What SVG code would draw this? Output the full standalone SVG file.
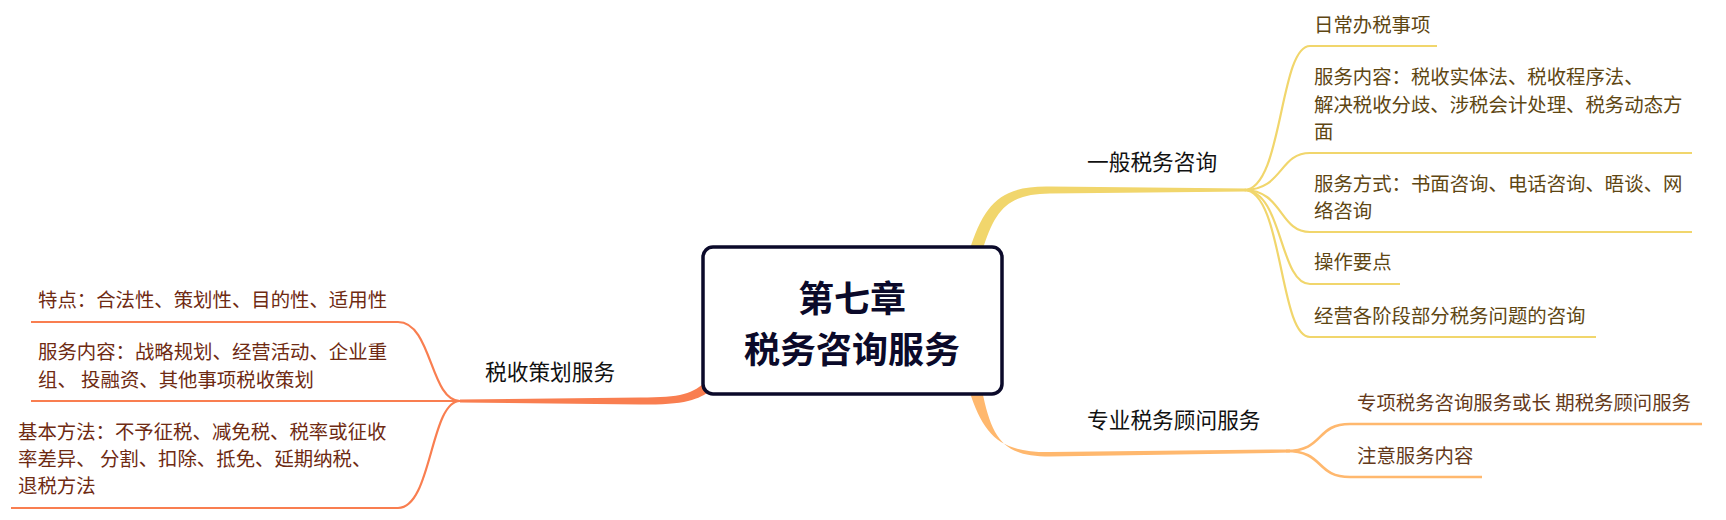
<svg xmlns="http://www.w3.org/2000/svg" width="1726" height="520" viewBox="0 0 1726 520">
<style>
text{font-family:"Noto Sans CJK SC","Noto Sans",sans-serif;}
.l1{font-size:21.7px;fill:#111;}
.c{font-size:19.4px;}
.cy{fill:#5e4612;}
.co{fill:#64391a;}
.cr{fill:#6e2a12;}
.ly{stroke:#F1D66C;stroke-width:2.2;fill:none;}
.lo{stroke:#FFB86E;stroke-width:2.6;fill:none;}
.lr{stroke:#F97E50;stroke-width:2.2;fill:none;}
.title{font-size:36px;font-weight:bold;fill:#0b0a2a;text-anchor:middle;}
</style>
<rect width="1726" height="520" fill="#fff"/>
<g id="connectors">
  <!-- main branches (tapered) -->
  <path d="M969 252 C984 203 1001 185.5 1050 186.5 L1246 188.4 L1246 191.6 L1050 193.5 C1009 194 995 208 982 252 Z" fill="#F1D66C"/>
  <path d="M969 390 C984 437 1001 452.5 1050 452 L1290 449.4 L1290 452.6 L1050 456.5 C1005 456.5 992 441 982 390 Z" fill="#FFB86E"/>
  <path d="M708 380 C692 394 682 397.5 640 397.5 L460 399.5 L460 402.5 L640 404.5 C688 405.5 701 398 713 389 Z" fill="#F97E50"/>
  <!-- yellow children -->
  <path class="ly" d="M1244 190 C1283 190 1279 46 1310 46 L1437 46"/>
  <path class="ly" d="M1244 190 C1283 190 1279 153 1310 153 L1692 153"/>
  <path class="ly" d="M1244 190 C1283 190 1279 232 1310 232 L1692 232"/>
  <path class="ly" d="M1244 190 C1283 190 1279 284 1310 284 L1400 284"/>
  <path class="ly" d="M1244 190 C1283 190 1279 337 1310 337 L1596 337"/>
  <!-- orange children -->
  <path class="lo" d="M1286 451 C1325 451 1315 424 1350 424 L1702 424"/>
  <path class="lo" d="M1286 451 C1325 451 1315 477 1350 477 L1482 477"/>
  <!-- red children -->
  <path class="lr" d="M460 401 C430 401 432 322 398 322 L31 322"/>
  <path class="lr" d="M460 401 L31 401"/>
  <path class="lr" d="M460 401 C430 401 432 508 398 508 L11 508"/>
</g>
<g id="center">
  <rect x="703" y="247" width="299" height="147" rx="10" fill="#fff" stroke="#0b0a2a" stroke-width="3.5"/>
  <text class="title" x="852" y="312">第七章</text>
  <text class="title" x="852" y="363">税务咨询服务</text>
</g>
<g id="n-general">
  <text class="l1" x="1087" y="170">一般税务咨询</text>
</g>
<g id="n-general-1"><text class="c cy" x="1314" y="32">日常办税事项</text></g>
<g id="n-general-2">
  <text class="c cy" x="1314" y="84">服务内容：税收实体法、税收程序法、</text>
  <text class="c cy" x="1314" y="111.5">解决税收分歧、涉税会计处理、税务动态方</text>
  <text class="c cy" x="1314" y="139">面</text>
</g>
<g id="n-general-3">
  <text class="c cy" x="1314" y="190.5">服务方式：书面咨询、电话咨询、晤谈、网</text>
  <text class="c cy" x="1314" y="218">络咨询</text>
</g>
<g id="n-general-4"><text class="c cy" x="1314" y="269">操作要点</text></g>
<g id="n-general-5"><text class="c cy" x="1314" y="322.5">经营各阶段部分税务问题的咨询</text></g>
<g id="n-pro">
  <text class="l1" x="1087" y="428">专业税务顾问服务</text>
</g>
<g id="n-pro-1"><text class="c co" x="1357" y="410">专项税务咨询服务或长 期税务顾问服务</text></g>
<g id="n-pro-2"><text class="c co" x="1357" y="463">注意服务内容</text></g>
<g id="n-plan">
  <text class="l1" x="485" y="380">税收策划服务</text>
</g>
<g id="n-plan-1"><text class="c cr" x="38" y="307">特点：合法性、策划性、目的性、适用性</text></g>
<g id="n-plan-2">
  <text class="c cr" x="38" y="359">服务内容：战略规划、经营活动、企业重</text>
  <text class="c cr" x="38" y="387">组、 投融资、其他事项税收策划</text>
</g>
<g id="n-plan-3">
  <text class="c cr" x="18" y="439">基本方法：不予征税、减免税、税率或征收</text>
  <text class="c cr" x="18" y="466">率差异、 分割、扣除、抵免、延期纳税、</text>
  <text class="c cr" x="18" y="493">退税方法</text>
</g>
</svg>
